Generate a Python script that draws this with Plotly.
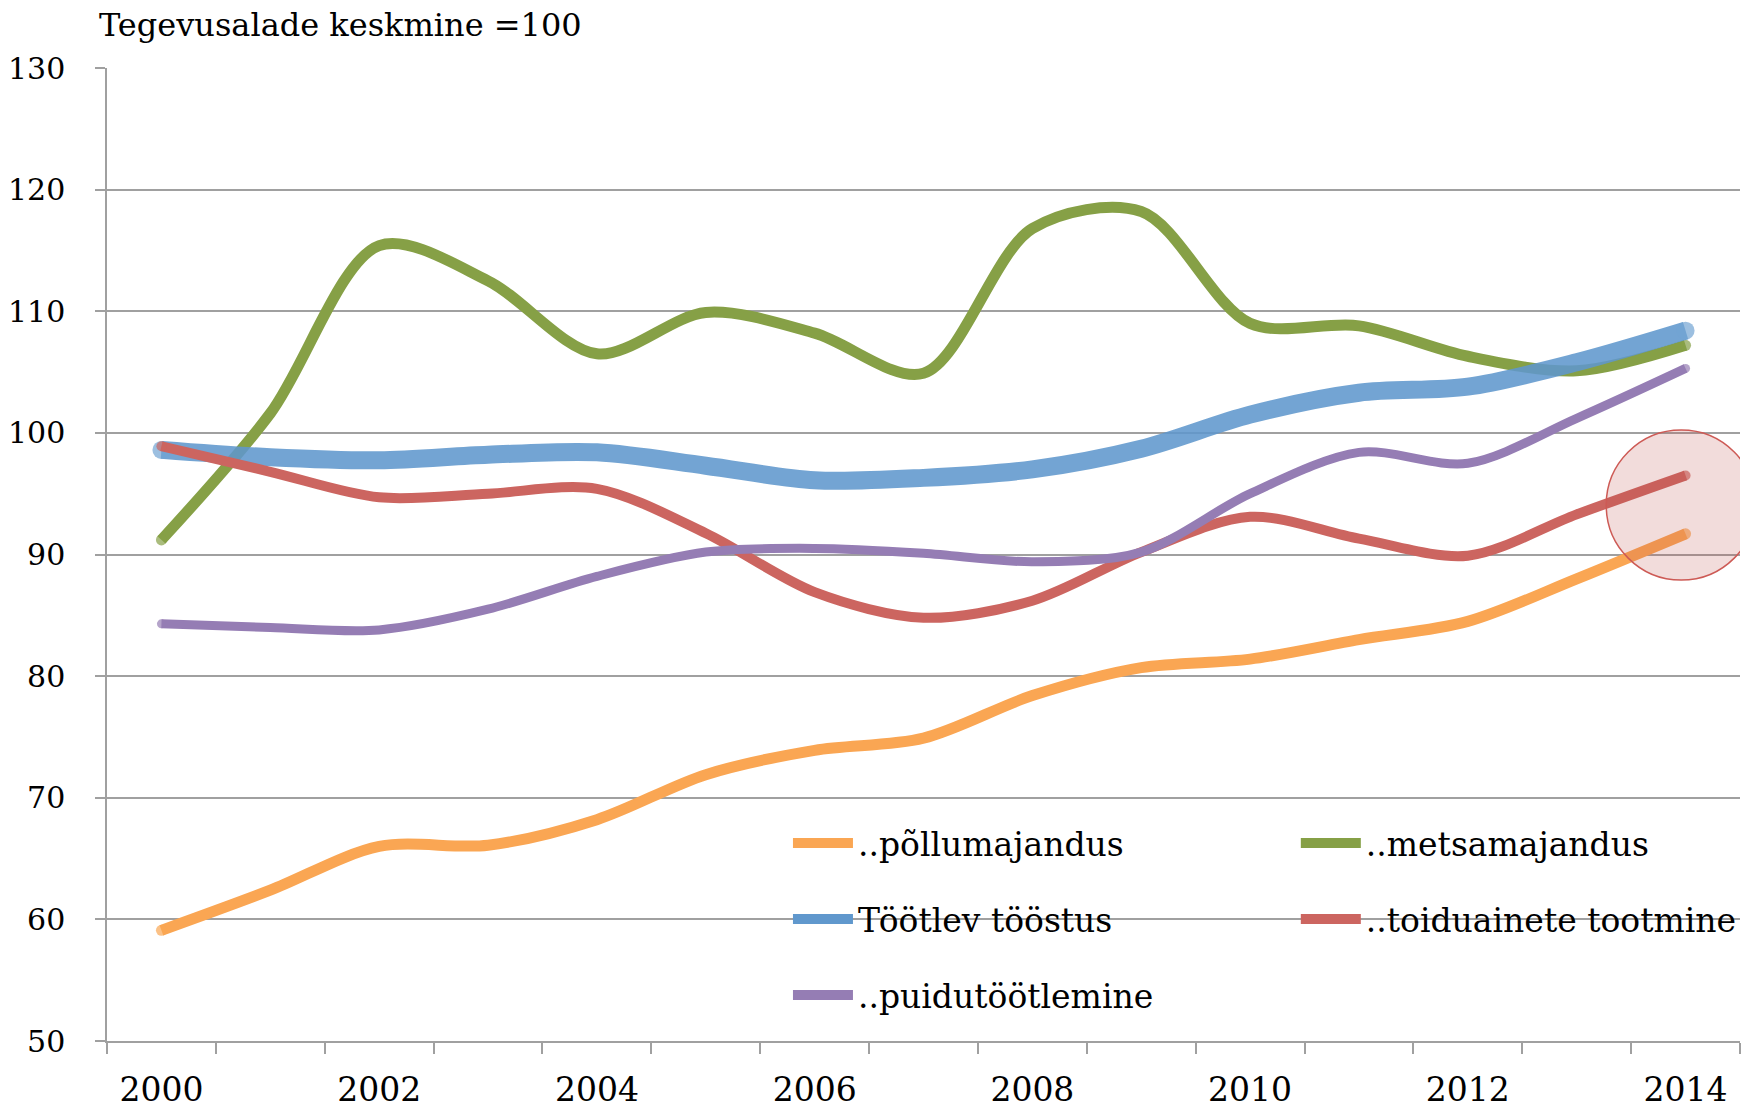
import plotly.graph_objects as go

years = list(range(2000, 2015))
tick_years = [2000, 2002, 2004, 2006, 2008, 2010, 2012, 2014]
y_ticks = [50, 60, 70, 80, 90, 100, 110, 120, 130]

pollumajandus = [59.1, 62.4, 66.0, 66.1, 68.2, 71.9, 73.9, 74.9, 78.4, 80.7, 81.4, 83.0, 84.5, 88.0, 91.7]
metsamajandus = [91.2, 101.6, 115.4, 112.5, 106.5, 109.9, 108.2, 104.9, 116.8, 118.2, 109.0, 108.8, 106.3, 105.1, 107.2]
tootlev = [98.6, 98.0, 97.75, 98.2, 98.4, 97.3, 96.1, 96.3, 97.0, 98.7, 101.5, 103.3, 103.8, 105.8, 108.4]
toiduained = [98.9, 96.8, 94.7, 95.0, 95.4, 91.75, 86.9, 84.8, 86.2, 90.2, 93.1, 91.3, 89.9, 93.3, 96.5]
puidutootlemine = [84.3, 84.0, 83.8, 85.5, 88.2, 90.2, 90.5, 90.1, 89.4, 90.2, 95.0, 98.4, 97.5, 101.2, 105.3]

names = ["..põllumajandus", "..metsamajandus", "Töötlev tööstus",
         "..toiduainete tootmine", "..puidutöötlemine"]

FONT = "DejaVu Serif"

# draw order: orange, green, blue, red, purple
series = [
    (names[0], pollumajandus, "rgb(250,166,83)", 11, 1.0),
    (names[1], metsamajandus, "rgb(134,160,70)", 11, 1.0),
    (names[2], tootlev, "rgb(96,152,205)", 18, 0.88),
    (names[3], toiduained, "rgb(204,101,96)", 10, 1.0),
    (names[4], puidutootlemine, "rgb(149,125,180)", 9, 1.0),
]

fig = go.Figure()
for name, vals, color, w, op in series:
    sizes = [w] + [0] * (len(vals) - 2) + [w]
    fig.add_trace(go.Scatter(
        x=years, y=vals, mode="lines+markers", name=name,
        line=dict(color=color, width=w, shape="spline", smoothing=0.9),
        marker=dict(size=sizes, color=color, line=dict(width=0)),
        opacity=op, showlegend=False, hoverinfo="skip"))

# legend entries, each in its own legend box
legend_pos = {
    names[0]: ("legend", 0.417, 0.2035),
    names[1]: ("legend2", 0.728, 0.2035),
    names[2]: ("legend3", 0.417, 0.1254),
    names[3]: ("legend4", 0.728, 0.1254),
    names[4]: ("legend5", 0.417, 0.0472),
}
color_of = {s[0]: s[2] for s in series}
for name in names:
    lg, lx, ly = legend_pos[name]
    fig.add_trace(go.Scatter(
        x=[None], y=[None], mode="lines", name=name, legend=lg,
        line=dict(color=color_of[name], width=12), showlegend=True))

legend_common = dict(xanchor="left", yanchor="middle", bgcolor="rgba(0,0,0,0)",
                     borderwidth=0, itemwidth=60,
                     font=dict(family=FONT, size=33, color="black"))
layout_legends = {}
for name in names:
    lg, lx, ly = legend_pos[name]
    layout_legends[lg] = dict(x=lx, y=ly, **legend_common)

# highlight circle at the last year
fig.add_shape(type="circle", xref="x", yref="y", xsizemode="pixel", ysizemode="pixel",
              xanchor=2013.96, yanchor=94.06, x0=-75, x1=75, y0=-75, y1=75,
              fillcolor="rgba(192,80,77,0.2)", line=dict(color="rgb(205,90,85)", width=1.5),
              layer="above")

grid_color = "rgb(160,160,160)"
fig.update_layout(
    width=1761, height=1110,
    paper_bgcolor="white", plot_bgcolor="white",
    margin=dict(l=107, r=21, t=68, b=69, autoexpand=False),
    font=dict(family=FONT, size=30, color="black"),
    title=dict(text="Tegevusalade keskmine =100", x=99 / 1761, xanchor="left",
               y=1 - 25 / 1110, yanchor="middle",
               font=dict(family=FONT, size=32, color="black")),
    xaxis=dict(range=[1999.5, 2014.5], tickmode="array", tickvals=tick_years,
               ticktext=[str(t) for t in tick_years], ticks="", showgrid=False,
               zeroline=False, showline=True, linecolor=grid_color, linewidth=1.5,
               ticklabelstandoff=19, automargin=False,
               minor=dict(tickmode="array", tickvals=[y - 0.5 for y in years] + [2014.5],
                          ticks="outside", ticklen=11, tickwidth=1.5, tickcolor=grid_color,
                          showgrid=False),
               tickfont=dict(family=FONT, size=33, color="black")),
    yaxis=dict(range=[50, 130], tickmode="array", tickvals=y_ticks, showgrid=True,
               gridcolor=grid_color, gridwidth=1.5, zeroline=False,
               showline=True, linecolor=grid_color, linewidth=1.5,
               ticks="outside", ticklen=10, tickwidth=1.5, tickcolor=grid_color,
               ticklabelstandoff=24, automargin=False,
               tickfont=dict(family=FONT, size=30, color="black")),
    **layout_legends,
)

fig.write_html("out.html", config={"displayModeBar": False},
               post_script="document.body.style.margin='0';document.body.style.padding='0';"
                           "document.body.style.overflow='hidden';")
